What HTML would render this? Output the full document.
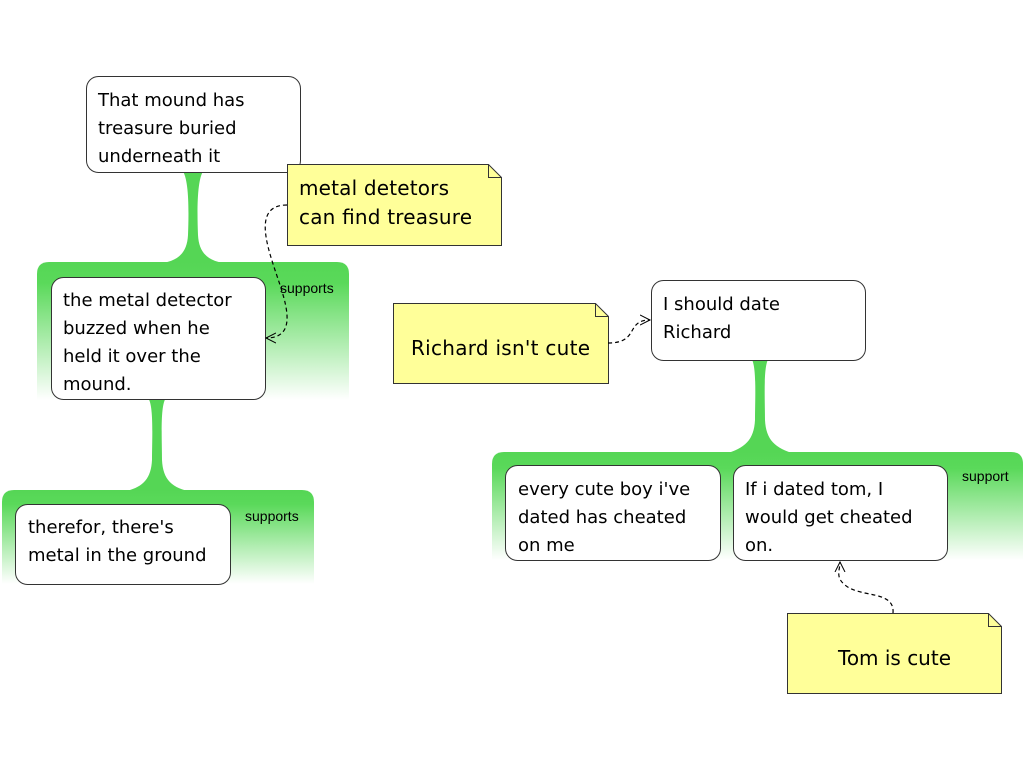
<!DOCTYPE html>
<html><head><meta charset="utf-8"><style>
body{margin:0;background:#fff}
svg text{font-family:"DejaVu Sans",sans-serif}
.n{font-size:18px;fill:#000}
.s{font-family:"Liberation Sans",sans-serif!important;font-size:14px}
</style></head><body>
<svg width="1024" height="768" viewBox="0 0 1024 768" xmlns="http://www.w3.org/2000/svg">
<defs>
<linearGradient id="g" x1="0" y1="0" x2="0" y2="1">
<stop offset="0" stop-color="#55d655"/><stop offset="0.15" stop-color="#5ad95a"/><stop offset="1" stop-color="#ffffff"/></linearGradient>
<marker id="a" markerWidth="12" markerHeight="12" refX="10" refY="6" orient="auto" markerUnits="userSpaceOnUse"><path d="M0,1 L10,6 L0,11" fill="none" stroke="#000" stroke-width="1"/></marker>
</defs>
<path d="M182,170 L204,170 C197,178 197,210 198,235 C199,255 210,262 230,264 L156,264 C176,262 187,255 188,235 C189,210 189,178 182,170Z" fill="#55d655"/>
<path d="M148,398 L166,398 C160,405 162,440 162,460 C163,480 172,488 192,492 L122,492 C142,488 151,480 152,460 C152,440 154,405 148,398Z" fill="#55d655"/>
<path d="M751,358 L769,358 C763,365 765,400 765,420 C766,440 775,448 795,454 L725,454 C745,448 754,440 755,420 C755,400 757,365 751,358Z" fill="#55d655"/>
<path d="M37,400 L37,274 Q37,262 49,262 L337,262 Q349,262 349,274 L349,400Z" fill="url(#g)"/>
<path d="M2,584 L2,502 Q2,490 14,490 L302,490 Q314,490 314,502 L314,584Z" fill="url(#g)"/>
<path d="M492,560 L492,464 Q492,452 504,452 L1011,452 Q1023,452 1023,464 L1023,560Z" fill="url(#g)"/>
<text class="s" x="280" y="293">supports</text>
<text class="s" x="245" y="521">supports</text>
<text class="s" x="962" y="481">support</text>
<g fill="#fff" stroke="#333" stroke-width="1">
<rect x="86.5" y="76.5" width="214" height="96" rx="12"/>
<rect x="51.5" y="277.5" width="214" height="122" rx="12"/>
<rect x="15.5" y="504.5" width="215" height="80" rx="12"/>
<rect x="651.5" y="280.5" width="214" height="80" rx="12"/>
<rect x="505.5" y="465.5" width="215" height="95" rx="12"/>
<rect x="733.5" y="465.5" width="214" height="95" rx="12"/>
</g>
<g class="n">
<text x="98" y="106">That mound has</text><text x="98" y="134">treasure buried</text><text x="98" y="162">underneath it</text>
<text x="63" y="306">the metal detector</text><text x="63" y="334">buzzed when he</text><text x="63" y="362">held it over the</text><text x="63" y="390">mound.</text>
<text x="28" y="533">therefor, there's</text><text x="28" y="561">metal in the ground</text>
<text x="663" y="310">I should date</text><text x="663" y="338">Richard</text>
<text x="518" y="495">every cute boy i've</text><text x="518" y="523">dated has cheated</text><text x="518" y="551">on me</text>
<text x="745" y="495">If i dated tom, I</text><text x="745" y="523">would get cheated</text><text x="745" y="551">on.</text>
</g>
<g fill="#ffff99" stroke="#333" stroke-width="1">
<path d="M287.5,164.5 H488.5 L501.5,177.5 V245.5 H287.5Z"/>
<path d="M393.5,303.5 H595.5 L608.5,316.5 V383.5 H393.5Z"/>
<path d="M787.5,613.5 H988.5 L1001.5,626.5 V693.5 H787.5Z"/>
</g>
<g fill="none" stroke="#333" stroke-width="1">
<path d="M488.5,164.5 V177.5 H501.5"/><path d="M595.5,303.5 V316.5 H608.5"/><path d="M988.5,613.5 V626.5 H1001.5"/>
</g>
<g font-size="20">
<text x="299" y="195" textLength="150">metal detetors</text><text x="299" y="224" textLength="173">can find treasure</text>
<text x="411" y="355" textLength="179">Richard isn't cute</text>
<text x="838" y="665" textLength="113">Tom is cute</text>
</g>
<g fill="none" stroke="#000" stroke-width="1.2" stroke-dasharray="4,3" marker-end="url(#a)">
<path d="M287,205 C255,205 265,240 275,270 C285,300 300,338 266,338"/>
<path d="M608,343 C640,343 625,320 650,320"/>
<path d="M893,613 C895,590 860,598 845,585 C835,577 840,570 840,562"/>
</g>
</svg>
</body></html>
